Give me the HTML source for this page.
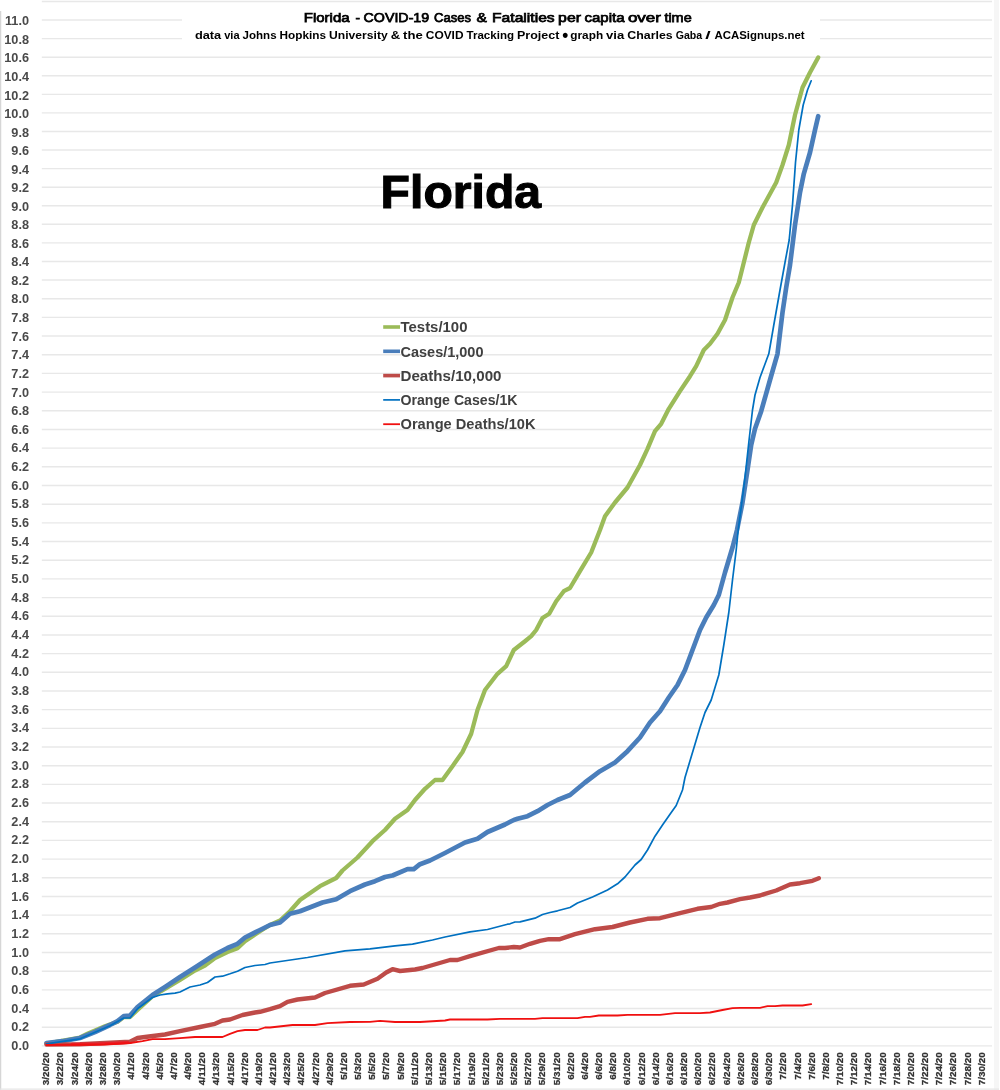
<!DOCTYPE html>
<html><head><meta charset="utf-8"><title>Florida - COVID-19 Cases &amp; Fatalities per capita over time</title>
<style>html,body{margin:0;padding:0;background:#fff}svg{display:block}</style></head>
<body>
<svg width="1000" height="1090" viewBox="0 0 1000 1090" font-family="'Liberation Sans', sans-serif">
<rect x="0" y="0" width="1000" height="1090" fill="#fff"/>
<rect x="994" y="0" width="5" height="1090" fill="#f6f6f6"/>
<line x1="0.6" x2="0.6" y1="11" y2="1090" stroke="#d6d6d6" stroke-width="1.3"/>
<line x1="0" x2="999" y1="1089.2" y2="1089.2" stroke="#e6e6e6" stroke-width="1.2"/>
<g stroke="#e8e8e8" stroke-width="1.4"><line x1="41.8" x2="992" y1="1045.90" y2="1045.90"/><line x1="41.8" x2="992" y1="1027.22" y2="1027.22"/><line x1="41.8" x2="992" y1="1008.54" y2="1008.54"/><line x1="41.8" x2="992" y1="989.86" y2="989.86"/><line x1="41.8" x2="992" y1="971.18" y2="971.18"/><line x1="41.8" x2="992" y1="952.50" y2="952.50"/><line x1="41.8" x2="992" y1="933.82" y2="933.82"/><line x1="41.8" x2="992" y1="915.14" y2="915.14"/><line x1="41.8" x2="992" y1="896.46" y2="896.46"/><line x1="41.8" x2="992" y1="877.78" y2="877.78"/><line x1="41.8" x2="992" y1="859.10" y2="859.10"/><line x1="41.8" x2="992" y1="840.42" y2="840.42"/><line x1="41.8" x2="992" y1="821.74" y2="821.74"/><line x1="41.8" x2="992" y1="803.06" y2="803.06"/><line x1="41.8" x2="992" y1="784.38" y2="784.38"/><line x1="41.8" x2="992" y1="765.70" y2="765.70"/><line x1="41.8" x2="992" y1="747.02" y2="747.02"/><line x1="41.8" x2="992" y1="728.34" y2="728.34"/><line x1="41.8" x2="992" y1="709.66" y2="709.66"/><line x1="41.8" x2="992" y1="690.98" y2="690.98"/><line x1="41.8" x2="992" y1="672.30" y2="672.30"/><line x1="41.8" x2="992" y1="653.62" y2="653.62"/><line x1="41.8" x2="992" y1="634.94" y2="634.94"/><line x1="41.8" x2="992" y1="616.26" y2="616.26"/><line x1="41.8" x2="992" y1="597.58" y2="597.58"/><line x1="41.8" x2="992" y1="578.90" y2="578.90"/><line x1="41.8" x2="992" y1="560.22" y2="560.22"/><line x1="41.8" x2="992" y1="541.54" y2="541.54"/><line x1="41.8" x2="992" y1="522.86" y2="522.86"/><line x1="41.8" x2="992" y1="504.18" y2="504.18"/><line x1="41.8" x2="992" y1="485.50" y2="485.50"/><line x1="41.8" x2="992" y1="466.82" y2="466.82"/><line x1="41.8" x2="992" y1="448.14" y2="448.14"/><line x1="41.8" x2="992" y1="429.46" y2="429.46"/><line x1="41.8" x2="992" y1="410.78" y2="410.78"/><line x1="41.8" x2="992" y1="392.10" y2="392.10"/><line x1="41.8" x2="992" y1="373.42" y2="373.42"/><line x1="41.8" x2="992" y1="354.74" y2="354.74"/><line x1="41.8" x2="992" y1="336.06" y2="336.06"/><line x1="41.8" x2="992" y1="317.38" y2="317.38"/><line x1="41.8" x2="992" y1="298.70" y2="298.70"/><line x1="41.8" x2="992" y1="280.02" y2="280.02"/><line x1="41.8" x2="992" y1="261.45" y2="261.45"/><line x1="41.8" x2="992" y1="242.88" y2="242.88"/><line x1="41.8" x2="992" y1="224.32" y2="224.32"/><line x1="41.8" x2="992" y1="205.75" y2="205.75"/><line x1="41.8" x2="992" y1="187.18" y2="187.18"/><line x1="41.8" x2="992" y1="168.61" y2="168.61"/><line x1="41.8" x2="992" y1="150.04" y2="150.04"/><line x1="41.8" x2="992" y1="131.48" y2="131.48"/><line x1="41.8" x2="992" y1="112.91" y2="112.91"/><line x1="41.8" x2="992" y1="94.34" y2="94.34"/><line x1="41.8" x2="992" y1="75.77" y2="75.77"/><line x1="41.8" x2="992" y1="57.20" y2="57.20"/><line x1="41.8" x2="992" y1="38.64" y2="38.64"/><line x1="41.8" x2="992" y1="20.07" y2="20.07"/><line x1="41.8" x2="992" y1="1.50" y2="1.50"/></g>
<rect x="182" y="4" width="638" height="46" fill="#fff"/>
<g font-size="12.7" font-weight="bold" fill="#4a4a4a" text-anchor="end"><text x="29.0" y="1049.9">0.0</text><text x="29.0" y="1031.2">0.2</text><text x="29.0" y="1012.5">0.4</text><text x="29.0" y="993.9">0.6</text><text x="29.0" y="975.2">0.8</text><text x="29.0" y="956.5">1.0</text><text x="29.0" y="937.8">1.2</text><text x="29.0" y="919.1">1.4</text><text x="29.0" y="900.5">1.6</text><text x="29.0" y="881.8">1.8</text><text x="29.0" y="863.1">2.0</text><text x="29.0" y="844.4">2.2</text><text x="29.0" y="825.7">2.4</text><text x="29.0" y="807.1">2.6</text><text x="29.0" y="788.4">2.8</text><text x="29.0" y="769.7">3.0</text><text x="29.0" y="751.0">3.2</text><text x="29.0" y="732.3">3.4</text><text x="29.0" y="713.7">3.6</text><text x="29.0" y="695.0">3.8</text><text x="29.0" y="676.3">4.0</text><text x="29.0" y="657.6">4.2</text><text x="29.0" y="638.9">4.4</text><text x="29.0" y="620.3">4.6</text><text x="29.0" y="601.6">4.8</text><text x="29.0" y="582.9">5.0</text><text x="29.0" y="564.3">5.2</text><text x="29.0" y="545.6">5.4</text><text x="29.0" y="527.0">5.6</text><text x="29.0" y="508.4">5.8</text><text x="29.0" y="489.7">6.0</text><text x="29.0" y="471.1">6.2</text><text x="29.0" y="452.4">6.4</text><text x="29.0" y="433.8">6.6</text><text x="29.0" y="415.2">6.8</text><text x="29.0" y="396.5">7.0</text><text x="29.0" y="377.9">7.2</text><text x="29.0" y="359.3">7.4</text><text x="29.0" y="340.6">7.6</text><text x="29.0" y="322.0">7.8</text><text x="29.0" y="303.4">8.0</text><text x="29.0" y="284.7">8.2</text><text x="29.0" y="266.2">8.4</text><text x="29.0" y="247.7">8.6</text><text x="29.0" y="229.1">8.8</text><text x="29.0" y="210.6">9.0</text><text x="29.0" y="192.1">9.2</text><text x="29.0" y="173.6">9.4</text><text x="29.0" y="155.0">9.6</text><text x="29.0" y="136.5">9.8</text><text x="29.0" y="118.0">10.0</text><text x="29.0" y="99.5">10.2</text><text x="29.0" y="80.9">10.4</text><text x="29.0" y="62.4">10.6</text><text x="29.0" y="43.9">10.8</text><text x="29.0" y="25.4">11.0</text></g>
<g font-size="9.6" font-weight="bold" fill="#333" stroke="#333" stroke-width="0.25" text-anchor="end"><text transform="translate(49.2,1052.2) rotate(-90)" textLength="33" lengthAdjust="spacingAndGlyphs">3/20/20</text><text transform="translate(63.4,1052.2) rotate(-90)" textLength="33" lengthAdjust="spacingAndGlyphs">3/22/20</text><text transform="translate(77.6,1052.2) rotate(-90)" textLength="33" lengthAdjust="spacingAndGlyphs">3/24/20</text><text transform="translate(91.8,1052.2) rotate(-90)" textLength="33" lengthAdjust="spacingAndGlyphs">3/26/20</text><text transform="translate(105.9,1052.2) rotate(-90)" textLength="33" lengthAdjust="spacingAndGlyphs">3/28/20</text><text transform="translate(120.1,1052.2) rotate(-90)" textLength="33" lengthAdjust="spacingAndGlyphs">3/30/20</text><text transform="translate(134.3,1052.2) rotate(-90)" textLength="27.6" lengthAdjust="spacingAndGlyphs">4/1/20</text><text transform="translate(148.5,1052.2) rotate(-90)" textLength="27.6" lengthAdjust="spacingAndGlyphs">4/3/20</text><text transform="translate(162.6,1052.2) rotate(-90)" textLength="27.6" lengthAdjust="spacingAndGlyphs">4/5/20</text><text transform="translate(176.8,1052.2) rotate(-90)" textLength="27.6" lengthAdjust="spacingAndGlyphs">4/7/20</text><text transform="translate(191.0,1052.2) rotate(-90)" textLength="27.6" lengthAdjust="spacingAndGlyphs">4/9/20</text><text transform="translate(205.2,1052.2) rotate(-90)" textLength="33" lengthAdjust="spacingAndGlyphs">4/11/20</text><text transform="translate(219.3,1052.2) rotate(-90)" textLength="33" lengthAdjust="spacingAndGlyphs">4/13/20</text><text transform="translate(233.5,1052.2) rotate(-90)" textLength="33" lengthAdjust="spacingAndGlyphs">4/15/20</text><text transform="translate(247.7,1052.2) rotate(-90)" textLength="33" lengthAdjust="spacingAndGlyphs">4/17/20</text><text transform="translate(261.9,1052.2) rotate(-90)" textLength="33" lengthAdjust="spacingAndGlyphs">4/19/20</text><text transform="translate(276.0,1052.2) rotate(-90)" textLength="33" lengthAdjust="spacingAndGlyphs">4/21/20</text><text transform="translate(290.2,1052.2) rotate(-90)" textLength="33" lengthAdjust="spacingAndGlyphs">4/23/20</text><text transform="translate(304.4,1052.2) rotate(-90)" textLength="33" lengthAdjust="spacingAndGlyphs">4/25/20</text><text transform="translate(318.5,1052.2) rotate(-90)" textLength="33" lengthAdjust="spacingAndGlyphs">4/27/20</text><text transform="translate(332.7,1052.2) rotate(-90)" textLength="33" lengthAdjust="spacingAndGlyphs">4/29/20</text><text transform="translate(346.9,1052.2) rotate(-90)" textLength="27.6" lengthAdjust="spacingAndGlyphs">5/1/20</text><text transform="translate(361.1,1052.2) rotate(-90)" textLength="27.6" lengthAdjust="spacingAndGlyphs">5/3/20</text><text transform="translate(375.2,1052.2) rotate(-90)" textLength="27.6" lengthAdjust="spacingAndGlyphs">5/5/20</text><text transform="translate(389.4,1052.2) rotate(-90)" textLength="27.6" lengthAdjust="spacingAndGlyphs">5/7/20</text><text transform="translate(403.6,1052.2) rotate(-90)" textLength="27.6" lengthAdjust="spacingAndGlyphs">5/9/20</text><text transform="translate(417.8,1052.2) rotate(-90)" textLength="33" lengthAdjust="spacingAndGlyphs">5/11/20</text><text transform="translate(431.9,1052.2) rotate(-90)" textLength="33" lengthAdjust="spacingAndGlyphs">5/13/20</text><text transform="translate(446.1,1052.2) rotate(-90)" textLength="33" lengthAdjust="spacingAndGlyphs">5/15/20</text><text transform="translate(460.3,1052.2) rotate(-90)" textLength="33" lengthAdjust="spacingAndGlyphs">5/17/20</text><text transform="translate(474.5,1052.2) rotate(-90)" textLength="33" lengthAdjust="spacingAndGlyphs">5/19/20</text><text transform="translate(488.6,1052.2) rotate(-90)" textLength="33" lengthAdjust="spacingAndGlyphs">5/21/20</text><text transform="translate(502.8,1052.2) rotate(-90)" textLength="33" lengthAdjust="spacingAndGlyphs">5/23/20</text><text transform="translate(517.0,1052.2) rotate(-90)" textLength="33" lengthAdjust="spacingAndGlyphs">5/25/20</text><text transform="translate(531.2,1052.2) rotate(-90)" textLength="33" lengthAdjust="spacingAndGlyphs">5/27/20</text><text transform="translate(545.3,1052.2) rotate(-90)" textLength="33" lengthAdjust="spacingAndGlyphs">5/29/20</text><text transform="translate(559.5,1052.2) rotate(-90)" textLength="33" lengthAdjust="spacingAndGlyphs">5/31/20</text><text transform="translate(573.7,1052.2) rotate(-90)" textLength="27.6" lengthAdjust="spacingAndGlyphs">6/2/20</text><text transform="translate(587.9,1052.2) rotate(-90)" textLength="27.6" lengthAdjust="spacingAndGlyphs">6/4/20</text><text transform="translate(602.0,1052.2) rotate(-90)" textLength="27.6" lengthAdjust="spacingAndGlyphs">6/6/20</text><text transform="translate(616.2,1052.2) rotate(-90)" textLength="27.6" lengthAdjust="spacingAndGlyphs">6/8/20</text><text transform="translate(630.4,1052.2) rotate(-90)" textLength="33" lengthAdjust="spacingAndGlyphs">6/10/20</text><text transform="translate(644.6,1052.2) rotate(-90)" textLength="33" lengthAdjust="spacingAndGlyphs">6/12/20</text><text transform="translate(658.7,1052.2) rotate(-90)" textLength="33" lengthAdjust="spacingAndGlyphs">6/14/20</text><text transform="translate(672.9,1052.2) rotate(-90)" textLength="33" lengthAdjust="spacingAndGlyphs">6/16/20</text><text transform="translate(687.1,1052.2) rotate(-90)" textLength="33" lengthAdjust="spacingAndGlyphs">6/18/20</text><text transform="translate(701.2,1052.2) rotate(-90)" textLength="33" lengthAdjust="spacingAndGlyphs">6/20/20</text><text transform="translate(715.4,1052.2) rotate(-90)" textLength="33" lengthAdjust="spacingAndGlyphs">6/22/20</text><text transform="translate(729.6,1052.2) rotate(-90)" textLength="33" lengthAdjust="spacingAndGlyphs">6/24/20</text><text transform="translate(743.8,1052.2) rotate(-90)" textLength="33" lengthAdjust="spacingAndGlyphs">6/26/20</text><text transform="translate(757.9,1052.2) rotate(-90)" textLength="33" lengthAdjust="spacingAndGlyphs">6/28/20</text><text transform="translate(772.1,1052.2) rotate(-90)" textLength="33" lengthAdjust="spacingAndGlyphs">6/30/20</text><text transform="translate(786.3,1052.2) rotate(-90)" textLength="27.6" lengthAdjust="spacingAndGlyphs">7/2/20</text><text transform="translate(800.5,1052.2) rotate(-90)" textLength="27.6" lengthAdjust="spacingAndGlyphs">7/4/20</text><text transform="translate(814.6,1052.2) rotate(-90)" textLength="27.6" lengthAdjust="spacingAndGlyphs">7/6/20</text><text transform="translate(828.8,1052.2) rotate(-90)" textLength="27.6" lengthAdjust="spacingAndGlyphs">7/8/20</text><text transform="translate(843.0,1052.2) rotate(-90)" textLength="33" lengthAdjust="spacingAndGlyphs">7/10/20</text><text transform="translate(857.2,1052.2) rotate(-90)" textLength="33" lengthAdjust="spacingAndGlyphs">7/12/20</text><text transform="translate(871.3,1052.2) rotate(-90)" textLength="33" lengthAdjust="spacingAndGlyphs">7/14/20</text><text transform="translate(885.5,1052.2) rotate(-90)" textLength="33" lengthAdjust="spacingAndGlyphs">7/16/20</text><text transform="translate(899.7,1052.2) rotate(-90)" textLength="33" lengthAdjust="spacingAndGlyphs">7/18/20</text><text transform="translate(913.9,1052.2) rotate(-90)" textLength="33" lengthAdjust="spacingAndGlyphs">7/20/20</text><text transform="translate(928.0,1052.2) rotate(-90)" textLength="33" lengthAdjust="spacingAndGlyphs">7/22/20</text><text transform="translate(942.2,1052.2) rotate(-90)" textLength="33" lengthAdjust="spacingAndGlyphs">7/24/20</text><text transform="translate(956.4,1052.2) rotate(-90)" textLength="33" lengthAdjust="spacingAndGlyphs">7/26/20</text><text transform="translate(970.6,1052.2) rotate(-90)" textLength="33" lengthAdjust="spacingAndGlyphs">7/28/20</text><text transform="translate(984.7,1052.2) rotate(-90)" textLength="33" lengthAdjust="spacingAndGlyphs">7/30/20</text></g>
<polyline fill="none" stroke="#9bbb59" stroke-width="4.3" stroke-linejoin="round" stroke-linecap="round" points="46.5,1043.5 80.0,1037.5 87.5,1033.8 105.0,1026.2 117.5,1021.8 123.8,1017.0 130.0,1017.0 137.5,1010.0 152.5,996.2 166.2,988.2 180.0,980.0 195.0,970.5 205.0,965.5 215.0,958.0 227.5,952.0 237.5,948.2 245.0,941.2 260.0,931.2 270.0,925.0 280.0,920.5 290.0,911.2 300.0,900.0 320.0,886.2 336.2,878.0 342.5,870.5 357.5,857.5 372.5,841.2 385.0,830.0 395.0,818.8 407.5,810.0 415.0,800.0 425.0,788.8 435.0,780.0 442.5,780.0 452.5,766.2 462.5,752.0 471.2,733.8 477.5,710.0 485.0,690.0 497.5,673.8 506.2,666.2 513.8,650.0 525.0,641.2 531.2,636.2 536.2,630.0 542.5,618.0 549.2,613.8 556.2,601.2 563.8,591.2 570.0,588.0 580.0,571.2 591.2,552.5 600.0,530.0 605.0,516.2 615.0,502.5 627.5,487.5 640.0,465.0 647.5,448.8 655.0,431.2 661.2,423.8 668.8,408.8 680.0,391.2 690.0,376.2 696.2,366.2 703.8,350.0 710.0,343.8 717.5,333.8 725.0,320.0 732.5,297.5 738.8,282.5 743.8,262.5 748.8,242.5 753.8,225.0 762.5,207.5 776.2,182.5 782.5,165.0 788.8,145.0 795.0,115.0 802.5,87.5 810.0,72.5 818.2,57.5"/>
<polyline fill="none" stroke="#4a7ebb" stroke-width="4.7" stroke-linejoin="round" stroke-linecap="round" points="46.5,1043.0 62.5,1041.2 80.0,1038.0 95.0,1032.0 110.0,1025.0 117.5,1021.2 123.8,1016.2 130.0,1015.5 137.5,1007.0 152.5,995.0 166.2,986.2 180.0,977.0 195.0,967.5 215.0,954.5 227.5,948.0 237.5,943.8 245.0,937.5 260.0,930.0 270.0,925.0 280.0,922.5 290.0,913.8 300.0,911.2 322.5,902.5 336.2,899.2 350.0,891.2 365.0,884.5 375.0,881.2 385.0,877.0 392.5,875.5 407.5,869.2 413.8,869.2 420.0,864.2 430.0,860.5 445.0,853.0 465.0,842.5 477.5,838.8 487.5,832.0 505.0,824.5 513.8,820.0 517.5,818.8 527.5,816.2 537.5,811.2 547.5,805.0 557.5,800.0 570.0,795.0 585.0,782.5 600.0,771.2 615.0,762.5 627.5,751.2 640.0,737.5 650.0,722.5 660.0,711.2 668.8,697.5 677.5,685.0 685.0,670.0 692.5,650.0 700.0,630.0 706.2,617.5 713.8,605.0 718.8,595.0 725.0,572.5 732.5,547.5 737.0,530.0 742.5,502.5 747.5,470.0 751.2,445.0 755.0,428.8 761.2,411.2 770.0,380.0 777.5,353.8 782.5,312.5 786.2,287.5 790.0,265.0 795.0,225.0 800.0,192.5 803.8,173.8 810.0,152.5 815.0,130.0 818.2,116.2"/>
<polyline fill="none" stroke="#be4b48" stroke-width="4.4" stroke-linejoin="round" stroke-linecap="round" points="46.5,1044.5 80.0,1044.2 105.0,1043.0 130.0,1041.8 137.5,1038.0 145.0,1037.0 165.0,1034.5 180.0,1031.2 200.0,1027.0 215.0,1023.8 222.5,1020.5 230.0,1019.5 242.5,1015.0 255.0,1012.5 260.0,1011.8 270.0,1009.2 280.0,1006.2 287.5,1001.8 297.5,999.5 315.0,997.5 325.0,993.0 350.0,985.8 363.8,984.5 377.5,978.8 386.2,972.5 392.5,969.2 400.0,971.0 415.0,969.5 422.5,968.0 450.0,960.0 457.5,960.0 470.0,956.2 498.8,948.0 505.0,948.0 513.8,947.0 520.0,947.5 530.0,943.8 540.0,940.8 548.8,939.2 560.0,939.2 575.0,934.2 595.0,929.2 612.5,927.0 630.0,922.5 647.5,918.8 660.0,918.2 680.0,913.2 697.5,908.8 711.2,907.0 720.0,903.8 727.5,902.5 740.0,899.2 750.0,897.5 760.0,895.5 765.0,893.8 776.2,890.5 790.0,884.5 800.0,883.2 812.5,880.8 818.8,878.2"/>
<polyline fill="none" stroke="#0070c0" stroke-width="1.7" stroke-linejoin="round" stroke-linecap="round" points="46.5,1043.8 80.0,1038.8 110.0,1025.8 123.8,1018.0 130.0,1018.0 137.5,1008.8 152.5,997.5 160.0,995.0 167.5,993.8 175.0,993.2 180.0,992.0 190.0,987.0 200.0,985.0 207.5,982.5 215.0,977.0 222.5,976.2 230.0,973.8 237.5,971.2 245.0,967.5 255.0,965.5 265.0,964.5 270.0,963.0 307.5,957.5 345.0,950.8 370.0,948.8 395.0,945.8 412.5,944.2 432.5,940.0 445.0,937.0 470.0,931.8 487.5,929.5 507.5,924.2 510.0,923.8 515.0,922.0 520.0,921.8 535.0,918.2 542.5,914.5 550.0,912.5 557.5,910.8 570.0,907.5 577.5,903.0 592.5,897.0 607.5,890.0 617.5,883.8 625.0,877.0 635.0,865.0 641.2,859.5 647.5,850.0 655.0,836.2 662.5,825.0 670.0,814.2 676.2,805.5 682.5,790.0 685.0,777.5 692.5,752.5 700.0,727.5 705.0,712.5 711.2,700.0 718.8,675.0 723.8,645.0 728.8,612.5 732.5,580.0 736.2,550.0 738.2,530.0 741.2,507.5 745.0,477.5 748.8,442.5 752.5,410.0 755.0,395.0 760.0,377.5 768.8,353.8 773.8,325.0 780.0,290.0 785.0,262.5 789.2,240.0 792.5,205.0 795.5,162.5 798.8,130.0 803.2,105.0 807.5,90.0 811.2,80.8"/>
<polyline fill="none" stroke="#e8202a" stroke-width="3" stroke-linecap="round" points="72,1044.2 100,1043.8 128,1042.6"/>
<polyline fill="none" stroke="#f01010" stroke-width="1.8" stroke-linejoin="round" stroke-linecap="round" points="46.5,1045.0 105.0,1044.5 130.0,1043.0 142.5,1041.2 152.5,1039.2 165.0,1039.2 180.0,1038.2 195.0,1037.0 222.5,1037.0 230.0,1033.8 237.5,1031.2 245.0,1030.0 257.5,1030.0 265.0,1027.5 270.0,1027.5 292.5,1025.0 315.0,1025.0 327.5,1023.2 350.0,1022.0 370.0,1021.8 380.0,1020.8 395.0,1022.0 420.0,1022.0 445.0,1020.5 450.0,1019.5 487.5,1019.5 500.0,1018.8 510.0,1018.8 535.0,1018.8 542.5,1018.2 577.5,1018.2 585.0,1016.8 590.0,1016.8 598.8,1015.5 617.5,1015.5 627.5,1014.8 660.0,1014.8 675.0,1013.2 700.0,1013.2 710.0,1012.5 722.5,1010.0 732.5,1008.2 740.0,1007.8 760.0,1007.8 767.5,1006.2 775.0,1006.2 782.5,1005.5 802.5,1005.5 811.2,1004.2"/>
<text y="22.3" font-size="13.5" fill="#000" stroke="#000" stroke-width="0.75"><tspan x="303.8" y="22.3" textLength="45.8" lengthAdjust="spacingAndGlyphs">Florida</tspan> <tspan x="355.5" y="22.3" textLength="4.5" lengthAdjust="spacingAndGlyphs">-</tspan> <tspan x="363.6" y="22.3" textLength="65.6" lengthAdjust="spacingAndGlyphs">COVID-19</tspan> <tspan x="434.0" y="22.3" textLength="37.0" lengthAdjust="spacingAndGlyphs">Cases</tspan> <tspan x="476.5" y="22.3" textLength="10.4" lengthAdjust="spacingAndGlyphs">&amp;</tspan> <tspan x="492.0" y="22.3" textLength="62.7" lengthAdjust="spacingAndGlyphs">Fatalities</tspan> <tspan x="558.1" y="22.3" textLength="22.9" lengthAdjust="spacingAndGlyphs">per</tspan> <tspan x="584.5" y="22.3" textLength="40.0" lengthAdjust="spacingAndGlyphs">capita</tspan> <tspan x="627.9" y="22.3" textLength="33.1" lengthAdjust="spacingAndGlyphs">over</tspan> <tspan x="664.4" y="22.3" textLength="27.3" lengthAdjust="spacingAndGlyphs">time</tspan></text>
<text y="39.4" font-size="11.8" fill="#000" font-weight="bold"><tspan x="194.9" y="39.4" textLength="26.3" lengthAdjust="spacingAndGlyphs">data</tspan> <tspan x="224.2" y="39.4" textLength="15.4" lengthAdjust="spacingAndGlyphs">via</tspan> <tspan x="242.6" y="39.4" textLength="34.0" lengthAdjust="spacingAndGlyphs">Johns</tspan> <tspan x="279.6" y="39.4" textLength="46.5" lengthAdjust="spacingAndGlyphs">Hopkins</tspan> <tspan x="329.1" y="39.4" textLength="58.6" lengthAdjust="spacingAndGlyphs">University</tspan> <tspan x="390.7" y="39.4" textLength="9.4" lengthAdjust="spacingAndGlyphs">&amp;</tspan> <tspan x="403.1" y="39.4" textLength="19.7" lengthAdjust="spacingAndGlyphs">the</tspan> <tspan x="425.8" y="39.4" textLength="37.7" lengthAdjust="spacingAndGlyphs">COVID</tspan> <tspan x="466.5" y="39.4" textLength="47.5" lengthAdjust="spacingAndGlyphs">Tracking</tspan> <tspan x="517.0" y="39.4" textLength="42.3" lengthAdjust="spacingAndGlyphs">Project</tspan> <tspan x="562.3" y="40.9" font-size="17.5" textLength="6.0" lengthAdjust="spacingAndGlyphs">•</tspan> <tspan x="570.3" y="39.4" textLength="32.8" lengthAdjust="spacingAndGlyphs">graph</tspan> <tspan x="606.1" y="39.4" textLength="18.2" lengthAdjust="spacingAndGlyphs">via</tspan> <tspan x="627.3" y="39.4" textLength="45.4" lengthAdjust="spacingAndGlyphs">Charles</tspan> <tspan x="675.7" y="39.4" textLength="26.5" lengthAdjust="spacingAndGlyphs">Gaba</tspan> <tspan x="705.2" y="39.4" textLength="5.4" lengthAdjust="spacingAndGlyphs">/</tspan> <tspan x="714.4" y="39.4" textLength="90.2" lengthAdjust="spacingAndGlyphs">ACASignups.net</tspan></text>
<text x="380.6" y="207.9" font-size="47" font-weight="bold" fill="#000" stroke="#000" stroke-width="1.1" textLength="160.5" lengthAdjust="spacingAndGlyphs">Florida</text>
<line x1="383.2" x2="400" y1="327.0" y2="327.0" stroke="#9bbb59" stroke-width="3.6"/>
<text x="400.5" y="332.2" font-size="14.4" font-weight="bold" fill="#404040" textLength="67" lengthAdjust="spacingAndGlyphs">Tests/100</text>
<line x1="383.2" x2="400" y1="351.3" y2="351.3" stroke="#4a7ebb" stroke-width="3.6"/>
<text x="400.5" y="356.5" font-size="14.4" font-weight="bold" fill="#404040" textLength="83" lengthAdjust="spacingAndGlyphs">Cases/1,000</text>
<line x1="383.2" x2="400" y1="375.6" y2="375.6" stroke="#be4b48" stroke-width="3.6"/>
<text x="400.5" y="380.8" font-size="14.4" font-weight="bold" fill="#404040" textLength="101" lengthAdjust="spacingAndGlyphs">Deaths/10,000</text>
<line x1="383.2" x2="400" y1="399.9" y2="399.9" stroke="#0070c0" stroke-width="1.7"/>
<text x="400.5" y="405.1" font-size="14.4" font-weight="bold" fill="#404040" textLength="117" lengthAdjust="spacingAndGlyphs">Orange Cases/1K</text>
<line x1="383.2" x2="400" y1="424.2" y2="424.2" stroke="#f01010" stroke-width="1.8"/>
<text x="400.5" y="429.4" font-size="14.4" font-weight="bold" fill="#404040" textLength="135" lengthAdjust="spacingAndGlyphs">Orange Deaths/10K</text>
</svg>
</body></html>
